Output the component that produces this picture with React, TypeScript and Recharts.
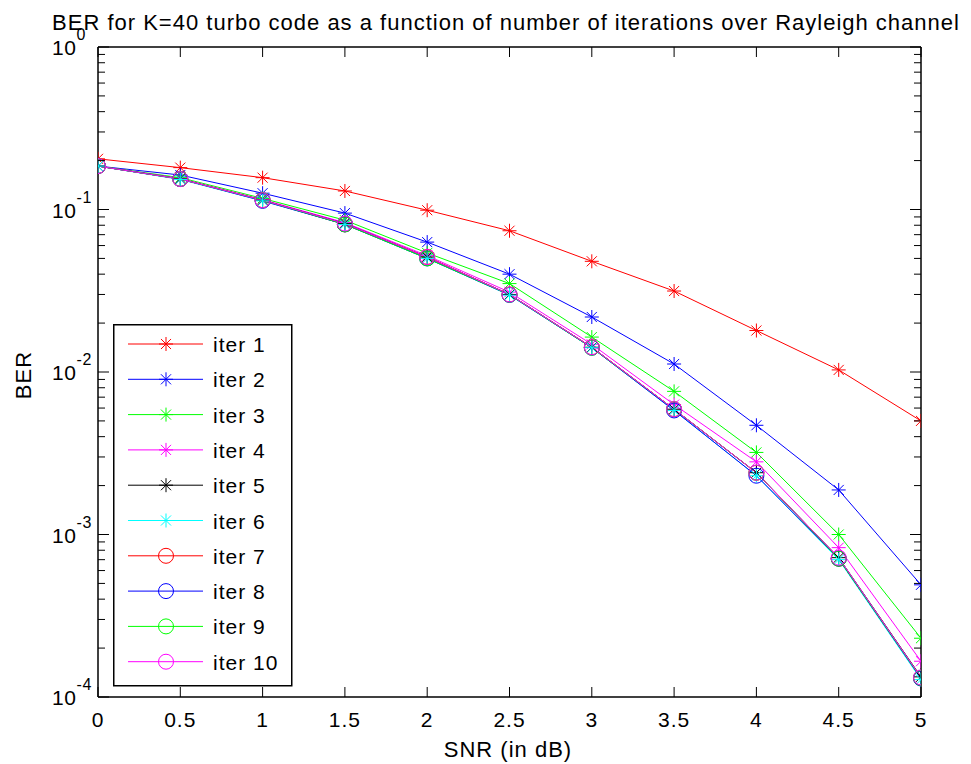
import { LineChart, Line, XAxis, YAxis, Legend } from "recharts";

const snr = [0, 0.5, 1, 1.5, 2, 2.5, 3, 3.5, 4, 4.5, 5];

const iter1 = [0.205, 0.181, 0.157, 0.13, 0.099, 0.074, 0.048, 0.0315, 0.018, 0.0103, 0.005];
const iter2 = [0.185, 0.163, 0.126, 0.095, 0.063, 0.04, 0.0218, 0.0112, 0.0047, 0.00188, 0.00049];
const iter3 = [0.185, 0.157, 0.117, 0.086, 0.054, 0.035, 0.0164, 0.0076, 0.0032, 0.001, 0.00023];
const iter4 = [0.185, 0.155, 0.115, 0.083, 0.052, 0.031, 0.0148, 0.0063, 0.0028, 0.00083, 0.000166];
const iter5 = [0.185, 0.154, 0.114, 0.082, 0.051, 0.03, 0.0142, 0.0059, 0.0024, 0.00072, 0.000133];
const iter6 = [0.185, 0.153, 0.113, 0.081, 0.05, 0.0297, 0.0141, 0.0058, 0.0023, 0.0007, 0.000128];
const iter7 = [0.185, 0.154, 0.114, 0.081, 0.051, 0.03, 0.0142, 0.0059, 0.0024, 0.00071, 0.000131];
const iter8 = [0.185, 0.154, 0.113, 0.081, 0.05, 0.0298, 0.0141, 0.0058, 0.0023, 0.00071, 0.00013];
const iter9 = [0.185, 0.154, 0.114, 0.081, 0.05, 0.0299, 0.0141, 0.0059, 0.0024, 0.00071, 0.000131];
const iter10 = [0.185, 0.154, 0.114, 0.082, 0.051, 0.03, 0.0142, 0.0059, 0.0024, 0.00072, 0.000132];

const seriesValues = [iter1, iter2, iter3, iter4, iter5, iter6, iter7, iter8, iter9, iter10];
const seriesNames = ["iter 1", "iter 2", "iter 3", "iter 4", "iter 5", "iter 6", "iter 7", "iter 8", "iter 9", "iter 10"];
const seriesColors = ["#ff0000", "#0000ff", "#00ff00", "#ff00ff", "#000000", "#00ffff", "#ff0000", "#0000ff", "#00ff00", "#ff00ff"];
const seriesMarkers = ["star", "star", "star", "star", "star", "star", "circle", "circle", "circle", "circle"];

const xTicks = [0, 0.5, 1, 1.5, 2, 2.5, 3, 3.5, 4, 4.5, 5];
const yMajorTicks = [1e-4, 1e-3, 1e-2, 1e-1, 1];
const yExponents = ["-4", "-3", "-2", "-1", "0"];

// log axis minor ticks (2..9 x each decade)
const yMinorTicks: number[] = [];
yMajorTicks.slice(0, 4).forEach((m) => {
  for (let k = 2; k <= 9; k++) yMinorTicks.push(m * k);
});
const yAllTicks = [...yMajorTicks, ...yMinorTicks];

const data = snr.map((s, i) => {
  const row: Record<string, number> = { snr: s };
  seriesValues.forEach((vals, j) => {
    row[`iter${j + 1}`] = vals[i];
  });
  return row;
});

const FONT = "'Liberation Sans', Arial, Helvetica, sans-serif";

const Marker = ({ cx, cy, color, kind }: { cx: number; cy: number; color: string; kind: string }) => {
  if (kind === "circle") {
    return <circle cx={cx} cy={cy} r={7.5} fill="none" stroke={color} strokeWidth={1} />;
  }
  const s = 7;
  const d = s * 0.72;
  return (
    <g stroke={color} strokeWidth={1} fill="none">
      <line x1={cx - s} y1={cy} x2={cx + s} y2={cy} />
      <line x1={cx} y1={cy - s} x2={cx} y2={cy + s} />
      <line x1={cx - d} y1={cy - d} x2={cx + d} y2={cy + d} />
      <line x1={cx - d} y1={cy + d} x2={cx + d} y2={cy - d} />
    </g>
  );
};

const LeftTick = (props: any) => {
  const { x, y, payload } = props;
  const idx = yMajorTicks.indexOf(payload.value);
  const major = idx >= 0;
  return (
    <g>
      <line x1={x} x2={x + (major ? 11 : 7)} y1={y} y2={y} stroke="#000" strokeWidth={1} />
      {major && (
        <text x={x - 46} y={y + 8} fontSize={21} fontFamily={FONT} fill="#000" letterSpacing={0.6}>
          10
          <tspan dy={-15} fontSize={16}>
            {yExponents[idx]}
          </tspan>
        </text>
      )}
    </g>
  );
};

const RightTick = (props: any) => {
  const { x, y, payload } = props;
  const major = yMajorTicks.indexOf(payload.value) >= 0;
  return <line x1={x} x2={x - (major ? 11 : 7)} y1={y} y2={y} stroke="#000" strokeWidth={1} />;
};

const BottomTick = (props: any) => {
  const { x, y, payload } = props;
  return (
    <g>
      <line x1={x} x2={x} y1={y} y2={y - 10} stroke="#000" strokeWidth={1} />
      <text x={x} y={y + 30} textAnchor="middle" fontSize={21} fontFamily={FONT} fill="#000" letterSpacing={1}>
        {payload.value}
      </text>
    </g>
  );
};

const TopTick = (props: any) => {
  const { x, y } = props;
  return <line x1={x} x2={x} y1={y} y2={y + 10} stroke="#000" strokeWidth={1} />;
};

const LegendBox = () => (
  <svg width={180} height={363} style={{ display: "block" }}>
    <rect x={0.75} y={0.75} width={178} height={361} fill="#fff" stroke="#000" strokeWidth={1.5} />
    {seriesNames.map((name, i) => {
      const cy = 20 + i * 35.3;
      return (
        <g key={name}>
          <line x1={15} x2={90} y1={cy} y2={cy} stroke={seriesColors[i]} strokeWidth={1} />
          <Marker cx={53} cy={cy} color={seriesColors[i]} kind={seriesMarkers[i]} />
          <text x={100} y={cy + 8} fontSize={21} fontFamily={FONT} fill="#000" letterSpacing={1}>
            {name}
          </text>
        </g>
      );
    })}
  </svg>
);

const App = () => {
  return (
    <div style={{ position: "absolute", left: 0, top: 0, width: 971, height: 764, background: "#fff" }}>
      <LineChart width={971} height={764} data={data} margin={{ top: 37, right: 40, bottom: 27, left: 38 }}>
        <XAxis
          xAxisId="bottom"
          dataKey="snr"
          type="number"
          domain={[0, 5]}
          ticks={xTicks}
          interval={0}
          allowDataOverflow
          height={40}
          tickSize={0}
          tickMargin={0}
          tickLine={false}
          axisLine={{ stroke: "#000", strokeWidth: 1.5 }}
          tick={<BottomTick />}
        />
        <XAxis
          xAxisId="top"
          orientation="top"
          dataKey="snr"
          type="number"
          domain={[0, 5]}
          ticks={xTicks}
          interval={0}
          allowDataOverflow
          height={10}
          tickSize={0}
          tickMargin={0}
          tickLine={false}
          axisLine={{ stroke: "#000", strokeWidth: 1.5 }}
          tick={<TopTick />}
        />
        <YAxis
          yAxisId="left"
          scale="log"
          domain={[1e-4, 1]}
          ticks={yAllTicks}
          interval={0}
          allowDataOverflow
          width={60}
          tickSize={0}
          tickMargin={0}
          tickLine={false}
          axisLine={{ stroke: "#000", strokeWidth: 1.5 }}
          tick={<LeftTick />}
        />
        <YAxis
          yAxisId="right"
          orientation="right"
          scale="log"
          domain={[1e-4, 1]}
          ticks={yAllTicks}
          interval={0}
          allowDataOverflow
          width={10}
          tickSize={0}
          tickMargin={0}
          tickLine={false}
          axisLine={{ stroke: "#000", strokeWidth: 1.5 }}
          tick={<RightTick />}
        />
        {seriesNames.map((name, i) => (
          <Line
            key={name}
            xAxisId="bottom"
            yAxisId="left"
            dataKey={`iter${i + 1}`}
            name={name}
            stroke={seriesColors[i]}
            strokeWidth={1}
            isAnimationActive={false}
            activeDot={false}
            dot={(p: any) => (
              <g key={`${name}-${p.index}`}>
                <Marker cx={p.cx} cy={p.cy} color={seriesColors[i]} kind={seriesMarkers[i]} />
              </g>
            )}
          />
        ))}
        <Legend
          layout="vertical"
          align="center"
          verticalAlign="middle"
          wrapperStyle={{ left: 113, top: 324, width: 180, height: 363 }}
          content={() => <LegendBox />}
        />
      </LineChart>
      <svg
        width={971}
        height={764}
        style={{ position: "absolute", left: 0, top: 0, pointerEvents: "none" }}
      >
        <text x={506} y={30} textAnchor="middle" fontSize={22} fontFamily={FONT} letterSpacing={1} fill="#000">
          BER for K=40 turbo code as a function of number of iterations over Rayleigh channel
        </text>
        <text x={508} y={757} textAnchor="middle" fontSize={22} fontFamily={FONT} letterSpacing={1} fill="#000">
          SNR (in dB)
        </text>
        <text
          x={31}
          y={375}
          textAnchor="middle"
          fontSize={22}
          fontFamily={FONT}
          letterSpacing={1}
          fill="#000"
          transform="rotate(-90 31 375)"
        >
          BER
        </text>
      </svg>
    </div>
  );
};

export default App;
